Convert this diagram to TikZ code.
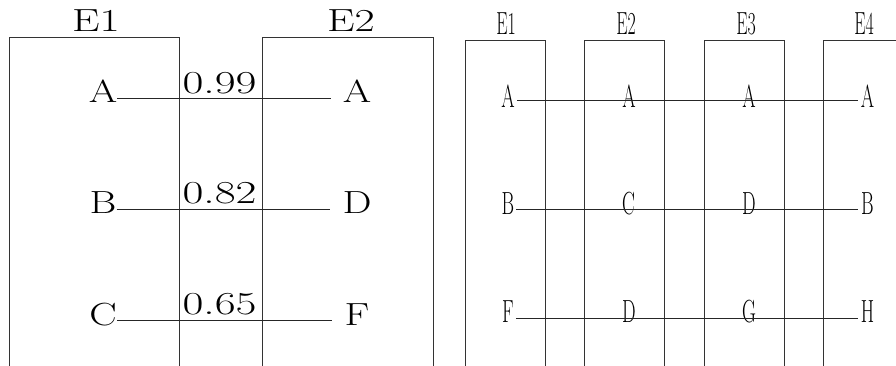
\documentclass[tikz,border=0pt]{standalone}
\usepackage{fontspec}
\usepackage{graphicx}
\newcommand\wdlt[1]{\scalebox{1.28}[1]{#1}}
\newcommand\wdlb[1]{\scalebox{1.37}[1]{#1}}
\newcommand\wdnum[1]{\scalebox{1.42}[1]{#1}}
\newcommand\nrw[1]{\scalebox{0.6}[1]{#1}}
\newcommand\nrwlb[1]{\scalebox{0.56}[1]{#1}}
\begin{document}
\begin{tikzpicture}[x=1pt,y=-1pt,
  txt/.style={inner sep=0pt,font=\fontsize{32}{32}\selectfont},
  frame/.style={draw=black!80,line width=0.9pt},
  conn/.style={draw=black!85,line width=0.9pt}]
\useasboundingbox (0,0) rectangle (896,366);
\clip (0,0) rectangle (896,366);
% ---------- left part ----------
\draw[frame] (9,380) -- (9,37) -- (179,37) -- (179,380);
\draw[frame] (262,380) -- (262,37) -- (433,37) -- (433,380);
\node[txt] (le1) at (96,21) {\wdlb{E1}};
\node[txt] (le2) at (351,21) {\wdlb{E2}};
\node[txt] (la) at (103,91.5) {\wdlt{A}};
\node[txt] (lb) at (103,203) {\wdlt{B}};
\node[txt] (lc) at (103,315) {\wdlt{C}};
\node[txt] (ra) at (357,91.5) {\wdlt{A}};
\node[txt] (rd) at (357,203) {\wdlt{D}};
\node[txt] (rf) at (357,315) {\wdlt{F}};
\node[txt] (n1) at (219.5,83) {\wdnum{0.99}};
\node[txt] (n2) at (219.5,193.5) {\wdnum{0.82}};
\node[txt] (n3) at (219.5,304) {\wdnum{0.65}};
\draw[conn] ([yshift=-6.5pt]la.east) -- ([xshift=-12pt,yshift=-6.5pt]ra.west);
\draw[conn] ([yshift=-6pt]lb.east) -- ([xshift=-12pt,yshift=-6pt]rd.west);
\draw[conn] ([yshift=-5pt]lc.east) -- ([xshift=-12pt,yshift=-5pt]rf.west);
% ---------- right part ----------
\draw[frame] (465,380) -- (465,40) -- (545,40) -- (545,380);
\draw[frame] (584,380) -- (584,40) -- (664,40) -- (664,380);
\draw[frame] (704,380) -- (704,40) -- (784,40) -- (784,380);
\draw[frame] (823,380) -- (823,40) -- (903,40) -- (903,380);
\node[txt] (e1) at (506,24) {\nrwlb{E1}};
\node[txt] (e2) at (626,24) {\nrwlb{E2}};
\node[txt] (e3) at (746,24) {\nrwlb{E3}};
\node[txt] (e4) at (864,24) {\nrwlb{E4}};
\node[txt] (a1) at (508,96) {\nrw{A}};
\node[txt] (a2) at (629,96) {\nrw{A}};
\node[txt] (a3) at (749,96) {\nrw{A}};
\node[txt] (a4) at (867.5,96) {\nrw{A}};
\node[txt] (b1) at (508,203.5) {\nrw{B}};
\node[txt] (b2) at (628.5,203.5) {\nrw{C}};
\node[txt] (b3) at (749,203.5) {\nrw{D}};
\node[txt] (b4) at (867.5,203.5) {\nrw{B}};
\node[txt] (c1) at (508,311.5) {\nrw{F}};
\node[txt] (c2) at (629,311.5) {\nrw{D}};
\node[txt] (c3) at (749,311.5) {\nrw{G}};
\node[txt] (c4) at (867.5,311.5) {\nrw{H}};
\draw[conn] ([xshift=2pt,yshift=-4pt]a1.east) -- ([xshift=-3pt,yshift=-4pt]a4.west);
\draw[conn] ([xshift=2pt,yshift=-5.5pt]b1.east) -- ([xshift=-3pt,yshift=-5.5pt]b4.west);
\draw[conn] ([xshift=2pt,yshift=-6.5pt]c1.east) -- ([xshift=-3pt,yshift=-6.5pt]c4.west);
\end{tikzpicture}
\end{document}
